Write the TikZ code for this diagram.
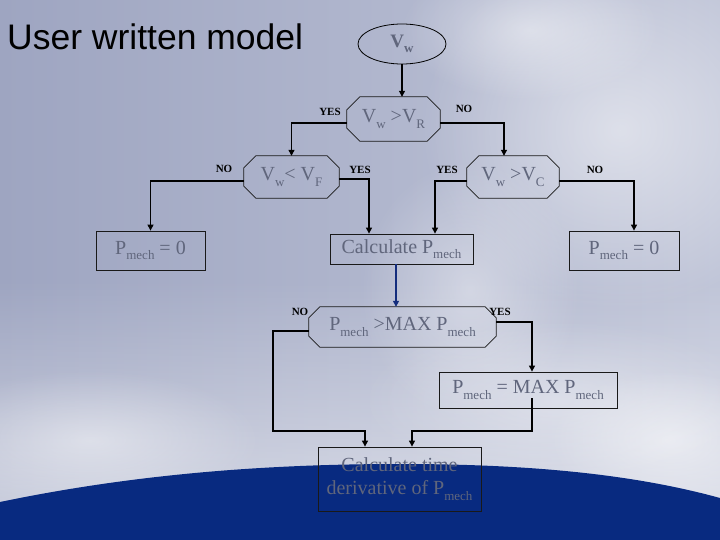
\documentclass[tikz,border=0pt]{standalone}
\usepackage{fontspec}
\setmainfont{Liberation Serif}
\newfontfamily\arialf{Liberation Sans}
\usetikzlibrary{arrows.meta,calc,fadings,shapes.geometric}
\definecolor{txtgray}{RGB}{96,102,124}
\definecolor{bandblue}{RGB}{8,42,128}
\definecolor{skyleft}{RGB}{158,165,193}
\definecolor{skyright}{RGB}{192,197,216}
\definecolor{arrblue}{RGB}{20,45,125}
\tikzfading[name=softblob,inner color=transparent!0,outer color=transparent!100]
\newcommand\sbs[1]{\raisebox{-0.28em}{\fontsize{13}{13}\selectfont #1}}
\newcommand\octo[2]{\draw[octline] ([xshift=#2]#1.north west) -- ([xshift=-#2]#1.north east) -- ([yshift=-#2]#1.north east) -- ([yshift=#2]#1.south east) -- ([xshift=-#2]#1.south east) -- ([xshift=#2]#1.south west) -- ([yshift=#2]#1.south west) -- ([yshift=-#2]#1.north west) -- cycle;}
\begin{document}
\begin{tikzpicture}[x=1pt,y=-1pt,
  txt/.style={text=txtgray,font=\fontsize{20}{23}\selectfont,inner sep=0pt,align=center},
  octnode/.style={txt},
  octline/.style={draw=black!90,line width=0.8pt},
  boxnode/.style={txt,draw=black!90,line width=0.8pt},
  arr/.style={draw=black,line width=1.1pt,-{Triangle[width=6pt,length=6pt]}},
  blob/.style={fill=white,path fading=softblob},
  lbl/.style={font=\bfseries\fontsize{11}{11}\selectfont,inner sep=0pt,text=black}]
\useasboundingbox (0,0) rectangle (720,540);
% background
\shade[left color=skyleft,right color=skyright] (0,0) rectangle (720,540);
\fill[white,opacity=0.5,path fading=north] (0,280) rectangle (720,520);
\fill[blob,opacity=0.5] (620,130) ellipse [x radius=200,y radius=180];
\fill[blob,opacity=0.45] (530,30) ellipse [x radius=130,y radius=70];
\fill[blob,opacity=0.4] (470,290) ellipse [x radius=110,y radius=130];
\fill[blob,opacity=0.45] (90,440) ellipse [x radius=170,y radius=70];
\fill[blob,opacity=0.5] (670,440) ellipse [x radius=120,y radius=70];
\fill[blob,opacity=0.35] (560,400) ellipse [x radius=200,y radius=80];
\fill[bandblue] (0,502) .. controls (130,475) and (260,464) .. (400,464) .. controls (540,464) and (640,476) .. (720,498) -- (720,540) -- (0,540) -- cycle;
% title
\node[anchor=base west,inner sep=0pt,font=\arialf\fontsize{35.5}{40}\selectfont,text=black] (title) at (7,50) {User written model};
% nodes
\node[txt,draw=black,line width=0.8pt,ellipse,minimum width=88pt,minimum height=40pt,inner sep=0pt,font=\bfseries\fontsize{19}{22}\selectfont] (vw) at (402,44) {V\sbs{w}};
\node[octnode,minimum width=93pt,minimum height=44pt] (d1) at (393.5,119) {V\sbs{w} >V\sbs{R}};
\node[octnode,minimum width=95pt,minimum height=42pt] (d2) at (291.5,177) {V\sbs{w}< V\sbs{F}};
\node[octnode,minimum width=92pt,minimum height=42pt] (d3) at (513,177) {V\sbs{w} >V\sbs{C}};
\node[boxnode,minimum width=109pt,minimum height=39pt] (p0l) at (150.5,250.5) {P\sbs{mech} = 0};
\node[boxnode,minimum width=143pt,minimum height=30pt] (calc) at (401.5,249) {Calculate P\sbs{mech}};
\node[boxnode,minimum width=110pt,minimum height=39pt] (p0r) at (624,250.5) {P\sbs{mech} = 0};
\node[octnode,minimum width=187pt,minimum height=40pt] (d4) at (402.5,327) {P\sbs{mech} >MAX P\sbs{mech}};
\node[boxnode,minimum width=178pt,minimum height=36pt] (pmax) at (528,390) {P\sbs{mech} = MAX P\sbs{mech}};
\node[boxnode,minimum width=163pt,minimum height=64pt] (fin) at (399.5,479) {Calculate time\\derivative of P\sbs{mech}};
\octo{d1}{13pt}
\octo{d2}{12pt}
\octo{d3}{12pt}
\octo{d4}{11pt}
% labels
\node[lbl] (l1) at (330,112) {YES};
\node[lbl] (l2) at (464,109) {NO};
\node[lbl] (l3) at (224,169) {NO};
\node[lbl] (l4) at (360,170) {YES};
\node[lbl] (l5) at (447,170) {YES};
\node[lbl] (l6) at (595,170) {NO};
\node[lbl] (l7) at (300,312) {NO};
\node[lbl] (l8) at (500,312) {YES};
% connectors
\draw[arr] (vw.south) -- (vw.south |- d1.north);
\draw[arr] ([yshift=-4pt]d1.west) -| (d2.north);
\draw[arr] ([yshift=-4pt]d1.east) -| ([xshift=-9pt]d3.north);
\draw[arr] ([yshift=-4pt]d2.west) -| (p0l.north);
\draw[arr] ([yshift=-2pt]d2.east) -| ([xshift=-32.5pt]calc.north);
\draw[arr] ([yshift=-4pt]d3.west) -| ([xshift=33.5pt]calc.north);
\draw[arr] ([yshift=-4pt]d3.east) -| ([xshift=10pt]p0r.north);
\draw[draw=arrblue,line width=1.8pt,-{Triangle[width=6pt,length=6pt]}] ([xshift=-5.5pt]calc.south) coordinate (cs) -- (cs |- d4.north);
\coordinate (j1) at (273,431);
\coordinate (j2) at (532,431);
\draw[arr] ([yshift=-4pt]d4.west) -| (j1) -| ([xshift=-34.5pt]fin.north);
\draw[arr] ([yshift=5pt]d4.east) -| ([xshift=4pt]pmax.north);
\draw[arr] ([xshift=4pt,yshift=10pt]pmax.south) -- (j2) -| ([xshift=12.5pt]fin.north);
\end{tikzpicture}
\end{document}
